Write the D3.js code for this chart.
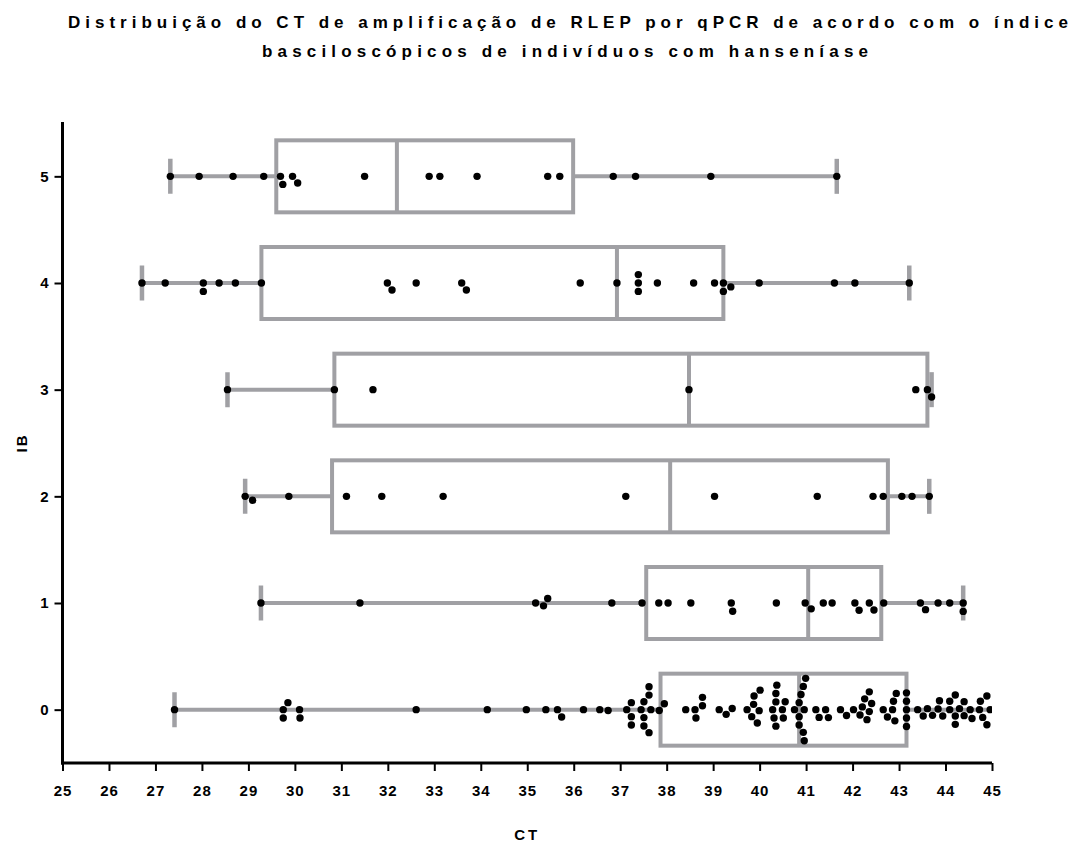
<!DOCTYPE html>
<html>
<head>
<meta charset="utf-8">
<script src="https://cdn.jsdelivr.net/npm/d3@7"></script>
<style>
  body { margin: 0; background: #fff; }
  text { font-family: "Liberation Sans Narrow", "Liberation Sans", Arial, sans-serif; font-weight: bold; fill: #000; }
</style>
</head>
<body>
<div class="chart"></div>
<script>
var w = 1087;
var h = 843;

var titleLines = ["Distribuição do CT de amplificação de RLEP por qPCR de acordo com o índice",
                  "basciloscópicos de indivíduos com hanseníase"];
var xLabel = "CT";
var yLabel = "IB";
var ibLevels = [0, 1, 2, 3, 4, 5];
var ctTicks = d3.range(25, 46);

// CT values per IB group
var ct0 = [27.41, 29.75, 29.75, 29.85, 30.10, 30.11, 32.61, 34.14, 34.98, 35.40, 35.65, 35.74,
           36.21, 36.56, 36.74, 37.14, 37.24, 37.24, 37.24, 37.45, 37.51, 37.51, 37.51, 37.62, 37.62, 37.62,
           37.66, 37.84, 37.95, 38.41, 38.61, 38.63, 38.77, 38.77, 39.13, 39.28, 39.41, 39.73, 39.83, 39.87,
           39.88, 39.95, 39.99, 40.01, 40.28, 40.31, 40.35, 40.35, 40.35, 40.37, 40.49, 40.51, 40.55, 40.75,
           40.85, 40.85, 40.85, 40.89, 40.94, 40.94, 40.96, 40.96, 40.99, 41.21, 41.28, 41.42, 41.48, 41.74,
           41.87, 42.02, 42.16, 42.21, 42.26, 42.31, 42.36, 42.36, 42.41, 42.66, 42.75, 42.86, 42.88, 42.91,
           42.94, 43.16, 43.16, 43.16, 43.16, 43.16, 43.40, 43.52, 43.61, 43.72, 43.84, 43.87, 43.94, 44.09,
           44.09, 44.21, 44.21, 44.21, 44.30, 44.40, 44.40, 44.53, 44.57, 44.73, 44.75, 44.80, 44.89, 44.89,
           44.96, 45.40];
var ct1 = [29.27, 31.40, 35.18, 35.35, 35.44, 36.82, 37.47, 37.83, 38.03, 38.52, 39.39, 39.42, 40.36, 40.98,
           41.11, 41.37, 41.56, 42.05, 42.14, 42.36, 42.46, 42.67, 43.46, 43.57, 43.84, 44.09, 44.38, 44.38];
var ct2 = [28.93, 29.09, 29.87, 31.11, 31.87, 33.19, 37.12, 39.03, 41.24, 42.44, 42.66, 43.06, 43.28, 43.65];
var ct3 = [28.55, 30.85, 31.68, 38.48, 43.36, 43.61, 43.70];
var ct4 = [26.71, 27.21, 28.03, 28.03, 28.37, 28.72, 29.28, 31.99, 32.09, 32.61, 33.59, 33.69, 36.14, 36.93,
           37.39, 37.39, 37.39, 37.80, 38.58, 39.03, 39.22, 39.22, 39.38, 39.99, 41.61, 42.05, 43.22];
var ct5 = [27.32, 27.94, 28.67, 29.33, 29.69, 29.74, 29.95, 30.06, 31.50, 32.89, 33.12, 33.92, 35.44, 35.70,
           36.85, 37.33, 38.95, 41.66];
var groups = [ct0, ct1, ct2, ct3, ct4, ct5];

var grey = "#a0a0a4";
var margin = {left: 62.5, right: 95, top: 123, bottom: 80};

var svg = d3.select(".chart").append("svg")
            .attr("width", w).attr("height", h);

var x = d3.scaleLinear().domain([25, 45]).range([margin.left, w - margin.right]);
var y = d3.scaleLinear().domain([-0.5, 5.5]).range([h - margin.bottom, margin.top]);

// quartiles the (n+1)p way
function quant(sorted, p){
    var pos = (sorted.length + 1) * p;
    var i = Math.floor(pos);
    if (i < 1) return sorted[0];
    if (i >= sorted.length) return sorted[sorted.length - 1];
    return sorted[i - 1] + (pos - i) * (sorted[i] - sorted[i - 1]);
}

svg.append("clipPath").attr("id", "plot")
   .append("rect")
   .attr("x", x(25)).attr("y", 0)
   .attr("width", x(45) - x(25)).attr("height", h);

var plot = svg.append("g").attr("clip-path", "url(#plot)");
var boxH = 72, capH = 35, r = 3.7, gap = 8.4;

groups.forEach(function(vals, gi){
    var s = vals.slice().sort(d3.ascending);
    var lo = s[0], hi = s[s.length - 1];
    var q1 = quant(s, 0.25), med = quant(s, 0.5), q3 = quant(s, 0.75);
    var cy = y(ibLevels[gi]);
    var g = plot.append("g");

    g.append("line").attr("x1", x(lo)).attr("x2", x(q1)).attr("y1", cy).attr("y2", cy)
     .attr("stroke", grey).attr("stroke-width", 4);
    g.append("line").attr("x1", x(q3)).attr("x2", x(hi)).attr("y1", cy).attr("y2", cy)
     .attr("stroke", grey).attr("stroke-width", 4);
    [lo, hi].forEach(function(v){ // whisker caps
        g.append("line").attr("x1", x(v)).attr("x2", x(v))
         .attr("y1", cy - capH / 2).attr("y2", cy + capH / 2)
         .attr("stroke", grey).attr("stroke-width", 4.5);
    });
    g.append("rect").attr("x", x(q1)).attr("y", cy - boxH / 2)
     .attr("width", x(q3) - x(q1)).attr("height", boxH)
     .attr("fill", "none").attr("stroke", grey).attr("stroke-width", 4);
    g.append("line").attr("x1", x(med)).attr("x2", x(med))
     .attr("y1", cy - boxH / 2).attr("y2", cy + boxH / 2)
     .attr("stroke", grey).attr("stroke-width", 4);

    // simple beeswarm so equal values spread vertically
    var placed = [];
    s.forEach(function(v){
        var px = x(v);
        var cands = [0];
        placed.forEach(function(p){
            var dx = px - p.x;
            if (Math.abs(dx) < gap) {
                var dy = Math.sqrt(gap * gap - dx * dx);
                cands.push(p.dy + dy, p.dy - dy);
            }
        });
        cands.sort(function(a, b){ return Math.abs(a) - Math.abs(b) || b - a; });
        var best = cands.find(function(c){
            return placed.every(function(p){
                var dx = px - p.x, dy = c - p.dy;
                return dx * dx + dy * dy >= gap * gap - 0.01;
            });
        });
        placed.push({x: px, dy: best});
    });
    g.selectAll("circle").data(placed).enter().append("circle")
     .attr("cx", function(d){ return d.x; })
     .attr("cy", function(d){ return cy + d.dy; })
     .attr("r", r).attr("fill", "#000");
});

// axes
var xAxis = svg.append("g").attr("transform", "translate(0," + (h - margin.bottom) + ")")
    .call(d3.axisBottom(x).tickValues(ctTicks).tickFormat(d3.format("d"))
            .tickSize(8).tickSizeOuter(0).tickPadding(14));
var yAxis = svg.append("g").attr("transform", "translate(" + margin.left + ",0)")
    .call(d3.axisLeft(y).tickValues(ibLevels).tickFormat(d3.format("d"))
            .tickSize(8).tickSizeOuter(0).tickPadding(5));

[xAxis, yAxis].forEach(function(a){
    a.select(".domain").attr("stroke", "#000").attr("stroke-width", 3);
    a.selectAll(".tick line").attr("stroke", "#000").attr("stroke-width", 2);
    a.selectAll(".tick text").style("font-family", "'Liberation Sans Narrow', 'Liberation Sans', Arial, sans-serif")
     .style("font-weight", "bold").style("font-size", "15px").style("letter-spacing", "1px");
});
// stretch the axis lines a bit past the ends like the original
xAxis.select(".domain").attr("d", "M" + (x(25) - 1.5) + ",0H" + x(45));
yAxis.select(".domain").attr("d", "M0," + (y(5.5) - 1) + "V" + (y(-0.5) + 1.5));

svg.append("text").text(xLabel)
   .attr("x", (x(25) + x(45)) / 2).attr("y", 840)
   .attr("text-anchor", "middle").style("font-size", "15px").style("letter-spacing", "3px");
svg.append("text").text(yLabel)
   .attr("transform", "translate(27," + ((y(-0.5) + y(5.5)) / 2) + ") rotate(-90)")
   .attr("text-anchor", "middle").style("font-size", "15px").style("letter-spacing", "2px");

var titleW = [1000, 606];
titleLines.forEach(function(t, i){
    svg.append("text").text(t)
       .attr("x", i == 0 ? 68 : 262).attr("y", 28 + i * 29)
       .attr("textLength", titleW[i]).attr("lengthAdjust", "spacing")
       .style("font-size", "17px");
});
</script>
</body>
</html>
